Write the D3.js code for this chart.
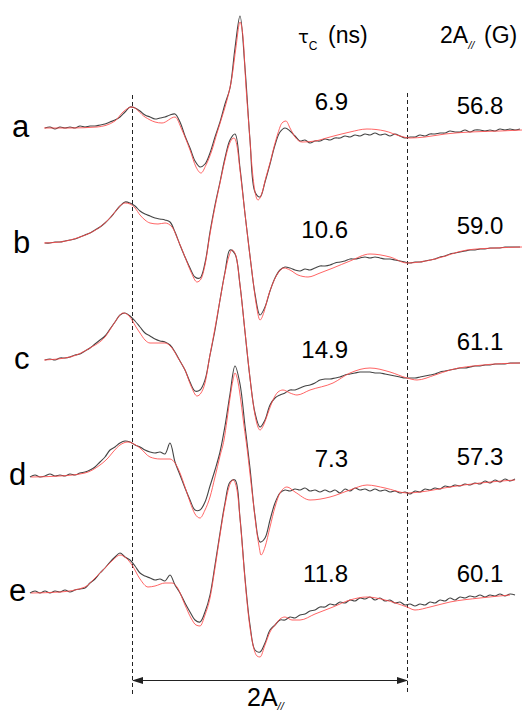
<!DOCTYPE html>
<html>
<head>
<meta charset="utf-8">
<script src="https://cdn.jsdelivr.net/npm/d3@7"></script>
<style>
  body { margin: 0; background: #fff; }
  text { font-family: "Liberation Sans", Arial, sans-serif; fill: #000; }
</style>
</head>
<body>
<div id="chart"></div>
<script>
// sample labels and fitted parameters
var sampleLabels = ["a", "b", "c", "d", "e"];
var tauC = ["6.9", "10.6", "14.9", "7.3", "11.8"];
var twoApar = ["56.8", "59.0", "61.1", "57.3", "60.1"];

// outer extrema used for 2A// (field, G from left edge)
var markerField = [20.4, 75.4];

// experimental spectra: one point per gauss starting at expStart
var expStart = [3, 3, 3, 0, 0];
var expA = [0,1,-1,1,0,1,0,2,1,2,
  2,3,4,6,8,11,16,21,20,17,
  13,11,9,10,11,13,14,6,-8,-20,
  -33,-39,-36,-25,-9,6,24,40,80,112,
  60,-12,-64,-69,-54,-36,-17,-4,0,-3,
  -8,-13,-12,-15,-13,-13,-11,-12,-10,-10,
  -8,-9,-7,-8,-6,-7,-5,-7,-6,-8,
  -6,-8,-10,-9,-9,-7,-8,-6,-6,-5,
  -5,-3,-4,-4,-2,-4,-2,-2,-3,-2,
  -3,-1,-2,-1,-2,-1];
var expB = [1,1,2,2,3,4,5,7,9,11,
  14,17,21,26,32,38,42,41,38,33,
  30,28,26,25,24,22,12,-1,-13,-24,
  -33,-34,-19,12,39,62,86,104,110,76,
  30,-12,-50,-71,-63,-47,-34,-26,-23,-24,
  -26,-27,-25,-26,-24,-22,-22,-21,-19,-18,
  -17,-15,-15,-14,-13,-14,-13,-14,-15,-15,
  -16,-17,-18,-19,-18,-18,-17,-16,-15,-13,
  -12,-10,-9,-8,-7,-6,-6,-5,-5,-4,
  -4,-4,-3,-3,-3,-3];
var expC = [0,1,0,2,2,3,5,6,9,12,
  16,20,24,31,38,45,47,44,39,33,
  27,24,21,19,18,15,8,-1,-10,-22,
  -31,-30,-20,5,30,60,88,110,106,75,
  28,-18,-53,-67,-60,-45,-38,-35,-33,-30,
  -30,-28,-26,-25,-23,-20,-19,-19,-18,-17,
  -15,-14,-13,-12,-12,-12,-13,-13,-14,-15,
  -16,-17,-18,-18,-18,-17,-16,-15,-14,-12,
  -11,-10,-9,-8,-8,-7,-6,-6,-5,-5,
  -4,-4,-4,-3,-3,-3];
var expD = [-1,1,-1,0,2,0,1,0,2,1,
  3,4,6,9,14,19,26,29,33,35,
  34,31,29,26,24,23,24,22,33,14,
  1,-12,-24,-34,-34,-26,-10,6,24,50,
  82,110,92,50,8,-40,-66,-62,-44,-27,
  -17,-14,-15,-13,-14,-12,-15,-14,-16,-14,
  -16,-14,-17,-13,-15,-12,-14,-13,-15,-13,
  -15,-14,-16,-15,-17,-16,-18,-15,-16,-13,
  -14,-12,-13,-10,-11,-9,-10,-8,-9,-7,
  -8,-5,-7,-4,-6,-3,-5,-3];
var expE = [-1,1,-1,1,-1,1,0,2,0,2,
  3,4,9,13,19,24,30,35,39,35,
  32,26,19,16,14,12,13,11,17,7,
  -1,-11,-20,-28,-30,-20,-3,27,59,89,
  110,112,74,14,-33,-58,-60,-51,-38,-33,
  -28,-28,-25,-26,-23,-22,-19,-18,-15,-15,
  -12,-13,-10,-11,-8,-9,-6,-7,-5,-8,
  -6,-9,-8,-11,-10,-13,-12,-14,-12,-13,
  -10,-11,-8,-9,-6,-8,-5,-6,-4,-5,
  -3,-5,-3,-4,-2,-4,-2,-3];

// simulated spectra [field G, amplitude]
var simA = [[2.8,0],[8,0],[13.4,1],[17,7],[18.6,16],[20.4,21],[23,11],[25,6],[26.4,5],[29,11],
  [30.4,-2],[32,-22],[33.2,-39],[34.2,-45],[35.2,-37],[36.4,-22],[37.4,-5],[38.4,11],[39.4,28],[40.4,51],
  [41.2,81],[42,106],[42.6,91],[43.2,41],[43.8,1],[44.4,-39],[45,-64],[45.6,-72],[46.4,-65],[47.2,-49],
  [48,-35],[48.8,-19],[49.6,-5],[50.4,5],[51.2,7],[52,0],[53,-9],[54.4,-14],[57,-13],[60,-9],
  [64,-4],[67.4,-1],[71,-3],[74,-8],[76,-10],[79,-9],[83,-6],[88,-4],[94,-3],[98.4,-2]];
var simB = [[2.8,1],[6,2],[10,7],[12,11],[14,17],[15.6,24],[17,32],[18,38],[19,41],[20,40],
  [21,36],[22,29],[23,24],[24,21],[25.6,20],[27,21],[28.4,17],[29.6,4],[31,-13],[32.2,-28],
  [33.4,-38],[34.2,-35],[35,-21],[36,10],[37,37],[38,61],[39,84],[39.8,99],[40.4,105],[40.8,106],
  [41.4,98],[42,74],[42.8,39],[43.6,4],[44.4,-28],[45.2,-59],[46,-76],[46.8,-68],[47.6,-53],[48.6,-39],
  [49.6,-29],[50.8,-24],[52,-26],[53.6,-31],[55.6,-33],[58,-29],[60.6,-24],[64,-17],[68,-10],[72,-13],
  [75.4,-19],[78,-18],[81,-15],[87.4,-6],[93,-4],[98.4,-3]];
var simC = [[2.8,0],[8,3],[12,12],[15,23],[17,38],[18,45],[18.6,47],[19.6,45],[20.4,40],[21.2,33],
  [22,27],[23,20],[24,17],[25.6,17],[27,17],[28.4,12],[29.6,2],[31,-10],[32.2,-26],[33.4,-36],
  [34.2,-33],[35,-23],[36,5],[37,32],[38,60],[39,87],[39.8,104],[40.4,110],[41.2,104],[42,75],
  [42.8,38],[43.6,0],[44.4,-35],[45.2,-60],[46,-70],[46.8,-64],[47.6,-53],[48.6,-40],[49.6,-32],[50.6,-30],
  [52,-33],[53.4,-35],[56,-30],[60.6,-23],[64,-13],[68,-8],[72,-12],[75.4,-18],[77.4,-20],[81,-15],
  [84,-10],[90.6,-5],[98,-3]];
var simD = [[0.2,-1],[6,0],[11,3],[14,11],[15.6,18],[16.6,24],[18,31],[19.6,34],[20.8,32],[22,28],
  [24,19],[26,17],[28,17],[29,13],[30,3],[31,-11],[32,-26],[33,-38],[34,-42],[35,-34],
  [36,-21],[37,-1],[38,20],[38.8,36],[39.4,56],[40,78],[40.6,96],[41,103],[41.6,94],[42.2,74],
  [42.8,50],[43.4,28],[44,2],[44.6,-24],[45.2,-50],[45.8,-70],[46.2,-79],[47,-71],[48,-51],[49,-31],
  [50,-17],[51.4,-11],[53,-16],[56,-24],[60,-21],[64,-14],[67.4,-9],[71,-12],[75.4,-17],[78,-16],
  [84,-11],[90,-7],[97,-4]];
var simE = [[0.2,-1],[6,0],[11,5],[13,14],[15,24],[16.6,32],[18,37],[19.2,34],[20.4,27],[22,13],
  [23.6,5],[25,6],[27,9],[28.4,9],[29.4,5],[31,-13],[32.2,-26],[33.2,-33],[34,-34],[35,-23],
  [36,-6],[37,24],[38,57],[39,87],[39.8,105],[40.6,112],[41.4,102],[42.2,62],[43,12],[43.8,-28],
  [44.6,-53],[45.4,-64],[46,-65],[47,-53],[48,-40],[49,-33],[50,-27],[51,-25],[52.4,-28],[54,-28],
  [57,-22],[60.6,-15],[64,-8],[67.4,-5],[71,-8],[75.4,-15],[77,-18],[80,-15],[84,-10],[90,-6],
  [96,-3]];

var expData = [expA, expB, expC, expD, expE];
var simData = [simA, simB, simC, simD, simE];

// layout
var labelX = [12, 13, 14, 9, 9];
var tauY = [110, 238, 358, 467, 582];
var aY = [114, 234, 350, 465, 582];

var svg = d3.select("#chart")
  .append("svg")
  .attr("width", 526)
  .attr("height", 717);

var x = d3.scaleLinear().domain([0, 98.4]).range([30, 522]);
var rowY = d3.scalePoint().domain(sampleLabels).range([128, 592]);
var amp = d3.scaleLinear().domain([-100, 100]).range([100, -100]);

var defs = svg.append("defs");
defs.append("marker")
  .attr("id", "head")
  .attr("markerUnits", "userSpaceOnUse")
  .attr("markerWidth", 11)
  .attr("markerHeight", 7)
  .attr("refX", 10)
  .attr("refY", 3.5)
  .attr("orient", "auto-start-reverse")
  .append("path")
  .attr("d", "M0,0 L11,3.5 L0,7 Z")
  .attr("fill", "#222");

// dashed guide lines at the outer extrema
svg.selectAll(".guide")
  .data(markerField)
  .enter()
  .append("line")
  .attr("class", "guide")
  .attr("x1", d => x(d) + 0.5)
  .attr("x2", d => x(d) + 0.5)
  .attr("y1", (d, i) => i ? 93 : 95)
  .attr("y2", (d, i) => i ? 693 : 697)
  .attr("stroke", "#222")
  .attr("stroke-width", 1)
  .attr("stroke-dasharray", "4,3");

svg.append("line")
  .attr("x1", x(markerField[0]) + 1)
  .attr("x2", x(markerField[1]))
  .attr("y1", 680.5)
  .attr("y2", 680.5)
  .attr("stroke", "#222")
  .attr("stroke-width", 1)
  .attr("marker-start", "url(#head)")
  .attr("marker-end", "url(#head)");

var expLine = d3.line()
  .x(d => x(d[0]))
  .y(d => amp(d[1]))
  .curve(d3.curveCatmullRom.alpha(0.5));

var simLine = d3.line()
  .x(d => x(d[0]))
  .y(d => amp(d[1]))
  .curve(d3.curveMonotoneX);

sampleLabels.forEach(function(lab, i) {
  var g = svg.append("g")
    .attr("transform", `translate(0, ${rowY(lab)})`);

  var pts = expData[i].map((v, j) => [expStart[i] + j, v]);

  g.append("path")
    .datum(pts)
    .attr("d", expLine)
    .attr("fill", "none")
    .attr("stroke", "#444")
    .attr("stroke-width", 1.1)
    .attr("stroke-linejoin", "round");

  g.append("path")
    .datum(simData[i])
    .attr("d", simLine)
    .attr("fill", "none")
    .attr("stroke", "#ff4a4a")
    .attr("stroke-opacity", 0.85)
    .attr("stroke-width", 1);

  svg.append("text")
    .attr("x", labelX[i])
    .attr("y", rowY(lab) + 9)
    .attr("font-size", 31)
    .text(lab);

  svg.append("text")
    .attr("x", 348)
    .attr("y", tauY[i])
    .attr("text-anchor", "end")
    .attr("font-size", 24)
    .text(tauC[i]);

  svg.append("text")
    .attr("x", 480)
    .attr("y", aY[i])
    .attr("text-anchor", "middle")
    .attr("font-size", 24)
    .text(twoApar[i]);
});

// column headers
var h1 = svg.append("text").attr("x", 298).attr("y", 43);
h1.append("tspan").attr("font-size", 18).style("font-family", "DejaVu Sans").text("τ");
h1.append("tspan").attr("font-size", 12).attr("dy", 7).text("C");
h1.append("tspan").attr("x", 328).attr("dy", -7).attr("font-size", 23).text("(ns)");

var h2 = svg.append("text").attr("x", 440).attr("y", 43).attr("font-size", 23);
h2.append("tspan").text("2A");
h2.append("tspan").attr("font-size", 11).attr("font-style", "italic").attr("dy", 6).text("//");
h2.append("tspan").attr("x", 484).attr("dy", -6).text("(G)");

var bottom = svg.append("text").attr("x", 247).attr("y", 706).attr("font-size", 25);
bottom.append("tspan").text("2A");
bottom.append("tspan").attr("font-size", 11).attr("font-style", "italic").attr("dy", 4).text("//");
</script>
</body>
</html>
